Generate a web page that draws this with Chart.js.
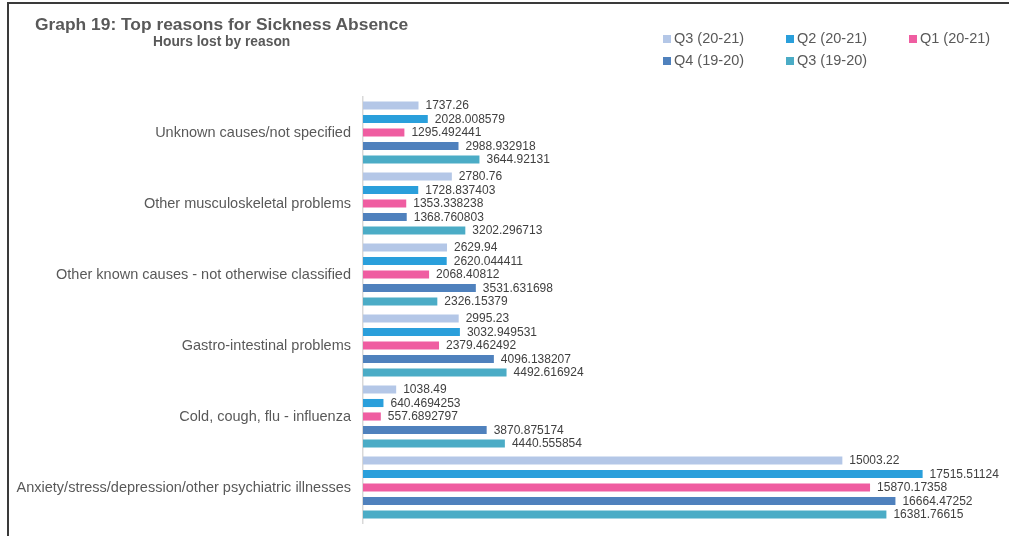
<!DOCTYPE html>
<html>
<head>
<meta charset="utf-8">
<script src="https://cdn.jsdelivr.net/npm/chart.js@4.4.1/dist/chart.umd.min.js"></script>
<style>
  html, body { margin: 0; padding: 0; background: #fff; }
  #wrap { position: relative; width: 1009px; height: 536px; overflow: hidden; font-family: "Liberation Sans", Arial, sans-serif; }
  #frame { position: absolute; left: 7px; top: 2px; width: 1010px; height: 540px; border-left: 2px solid #3a3a3a; border-top: 2px solid #3a3a3a; }
  #title { position: absolute; left: 35px; top: 14px; font-size: 17.4px; font-weight: bold; color: #595959; white-space: nowrap; }
  #subtitle { position: absolute; left: 153px; top: 34px; font-size: 13.8px; font-weight: bold; color: #595959; white-space: nowrap; }
  #legend { position: absolute; left: 663px; top: 29px; width: 345px; }
  .item { position: absolute; font-size: 14.5px; color: #595959; white-space: nowrap; line-height: 18px; }
  .sw { display: inline-block; width: 8px; height: 8px; margin-right: 3px; vertical-align: 0px; }
  canvas { position: absolute; left: 0; top: 0; }
</style>
</head>
<body>
<div id="wrap">
  <!-- canvas runs slightly below the visible area so the last category label's padding falls off-screen -->
  <canvas id="c" width="1009" height="544"></canvas>
  <div id="frame"></div>
  <div id="title">Graph 19: Top reasons for Sickness Absence</div>
  <div id="subtitle">Hours lost by reason</div>
  <div id="legend"></div>
</div>
<script>
// Sickness absence reasons (top to bottom)
const reasons = [
  "Unknown causes/not specified",
  "Other musculoskeletal problems",
  "Other known causes - not otherwise classified",
  "Gastro-intestinal problems",
  "Cold, cough, flu - influenza",
  "Anxiety/stress/depression/other psychiatric illnesses"
];

// Hours lost per quarter
const q3_2021 = [1737.26, 2780.76, 2629.94, 2995.23, 1038.49, 15003.22];
const q2_2021 = [2028.008579, 1728.837403, 2620.044411, 3032.949531, 640.4694253, 17515.51124];
const q1_2021 = [1295.492441, 1353.338238, 2068.40812, 2379.462492, 557.6892797, 15870.17358];
const q4_1920 = [2988.932918, 1368.760803, 3531.631698, 4096.138207, 3870.875174, 16664.47252];
const q3_1920 = [3644.92131, 3202.296713, 2326.15379, 4492.616924, 4440.555854, 16381.76615];

const seriesNames = ["Q3 (20-21)", "Q2 (20-21)", "Q1 (20-21)", "Q4 (19-20)", "Q3 (19-20)"];
const seriesColors = ["#B4C7E7", "#2A9FDB", "#EF5DA1", "#4F81BD", "#4BACC6"];
const seriesValues = [q3_2021, q2_2021, q1_2021, q4_1920, q3_1920];

// Legend: three columns, two rows
const legendEl = document.getElementById('legend');
const colX = [0, 123, 246];
seriesNames.forEach((name, i) => {
  const d = document.createElement('div');
  d.className = 'item';
  d.style.left = colX[i % 3] + 'px';
  d.style.top = (Math.floor(i / 3) * 22) + 'px';
  d.innerHTML = '<span class="sw" style="background:' + seriesColors[i] + '"></span>' + name;
  legendEl.appendChild(d);
});

// Value labels at the end of each bar
const valueLabels = {
  id: 'valueLabels',
  afterDatasetsDraw(chart) {
    const ctx = chart.ctx;
    ctx.save();
    ctx.font = '12px "Liberation Sans", Arial, sans-serif';
    ctx.fillStyle = '#404040';
    ctx.textAlign = 'left';
    ctx.textBaseline = 'middle';
    chart.data.datasets.forEach((ds, di) => {
      chart.getDatasetMeta(di).data.forEach((bar, i) => {
        ctx.fillText(String(ds.data[i]), bar.x + 7, bar.y + 0.5);
      });
    });
    ctx.restore();
  }
};

new Chart(document.getElementById('c'), {
  type: 'bar',
  data: {
    labels: reasons,
    datasets: seriesNames.map((name, i) => ({
      label: name,
      data: seriesValues[i],
      backgroundColor: seriesColors[i],
      borderWidth: 0,
      categoryPercentage: 0.95,
      barPercentage: 0.6
    }))
  },
  options: {
    indexAxis: 'y',
    responsive: false,
    maintainAspectRatio: false,
    animation: false,
    layout: { padding: { left: 10, right: 7, top: 97, bottom: 21 } },
    plugins: { legend: { display: false }, tooltip: { enabled: false } },
    scales: {
      x: { display: false, min: 0, max: 20000 },
      y: {
        afterFit(scale) { scale.width = 353; },
        grid: { display: false, drawTicks: false },
        border: { display: true, color: '#d9d9d9', width: 1.5 },
        ticks: {
          padding: 12,
          color: '#595959',
          font: { family: '"Liberation Sans", Arial, sans-serif', size: 14.5 }
        }
      }
    }
  },
  plugins: [valueLabels]
});
</script>
</body>
</html>
